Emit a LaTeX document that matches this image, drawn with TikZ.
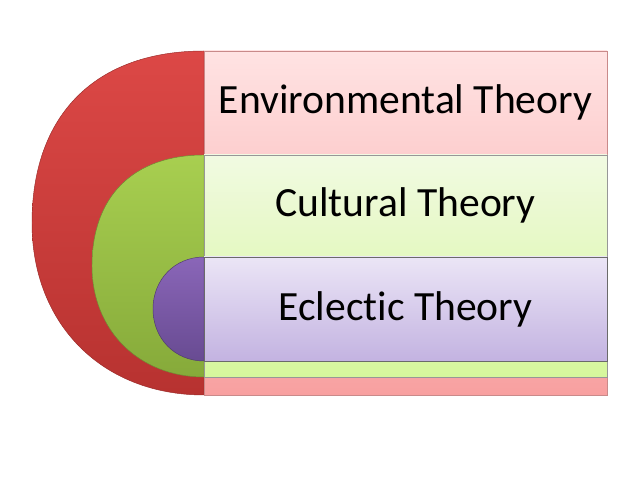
\documentclass[tikz,border=0pt]{standalone}
\usepackage{fontspec}
\setmainfont{Carlito}[Ligatures=NoCommon]
\usepackage{tikz}
\usetikzlibrary{positioning,calc}
\usepackage{xcolor}
\definecolor{ntRedDk}{HTML}{DC4846}
\definecolor{ntRedLo}{HTML}{B73230}
\definecolor{ntRedLine}{HTML}{9A2A28}
\definecolor{ntPinkHi}{HTML}{FFE3E3}
\definecolor{ntPinkLo}{HTML}{F8A0A0}
\definecolor{ntPinkLine}{HTML}{C98A8A}
\definecolor{ntGrnDk}{HTML}{A8CF50}
\definecolor{ntGrnLo}{HTML}{86AA3A}
\definecolor{ntGrnLine}{HTML}{6E8A34}
\definecolor{ntLimeHi}{HTML}{F1FAE2}
\definecolor{ntLimeLo}{HTML}{D6F79C}
\definecolor{ntPurDk}{HTML}{8A66B8}
\definecolor{ntPurLo}{HTML}{684B92}
\definecolor{ntPurLine}{HTML}{4E3A6E}
\definecolor{ntLilacHi}{HTML}{EBE5F6}
\definecolor{ntLilacLo}{HTML}{C3B3E1}
\definecolor{ntEdge}{HTML}{6A6A6A}
\tikzset{
  redhalf/.style={draw=ntRedLine, line width=0.4pt, top color=ntRedDk, bottom color=ntRedLo},
  redbox/.style={draw=ntPinkLine, line width=0.4pt, top color=ntPinkHi, bottom color=ntPinkLo},
  grnhalf/.style={draw=ntGrnLine, line width=0.4pt, top color=ntGrnDk, bottom color=ntGrnLo},
  grnbox/.style={draw=ntEdge!70, line width=0.4pt, top color=ntLimeHi, bottom color=ntLimeLo},
  purhalf/.style={draw=ntPurLine, line width=0.4pt, top color=ntPurDk, bottom color=ntPurLo},
  purbox/.style={draw=ntEdge, line width=0.4pt, top color=ntLilacHi, bottom color=ntLilacLo},
  lbl/.style={font=\fontsize{35.5}{40}\selectfont, text=black, inner sep=0pt},
}
\begin{document}
\begin{tikzpicture}[x=0.03cm,y=0.03cm]
    \useasboundingbox (0,0) rectangle (638,479);
    % nested half rounds, each with its band
    \foreach \nm/\xl/\yt/\yb/\ka/\kb in {red/32/428/84/0.63/0.59, grn/92/324/102/0.63/0.58, pur/153/222/118/0.57/0.57} {
        \pgfmathsetmacro{\ym}{(\yt+\yb)/2}
        \pgfmathsetmacro{\hh}{(\yt-\yb)/2}
        \pgfmathsetmacro{\ww}{204-\xl}
        \draw[\nm half] (204,\yt)
            .. controls ({204-\ka*\ww},\yt) and (\xl,{\ym+\ka*\hh}) .. (\xl,\ym)
            .. controls (\xl,{\ym-\kb*\hh}) and ({204-\kb*\ww},\yb) .. (204,\yb) -- cycle;
        \draw[\nm box] (204,\yt) rectangle (607,\yb);
    }
    \node[lbl] (env) at (405.5,377) {Environmental Theory};
    \node[lbl] (cult) at (405.5,274) {Cultural Theory};
    \node[lbl] (ecl) at (405.5,170) {Eclectic Theory};
\end{tikzpicture}
\end{document}
